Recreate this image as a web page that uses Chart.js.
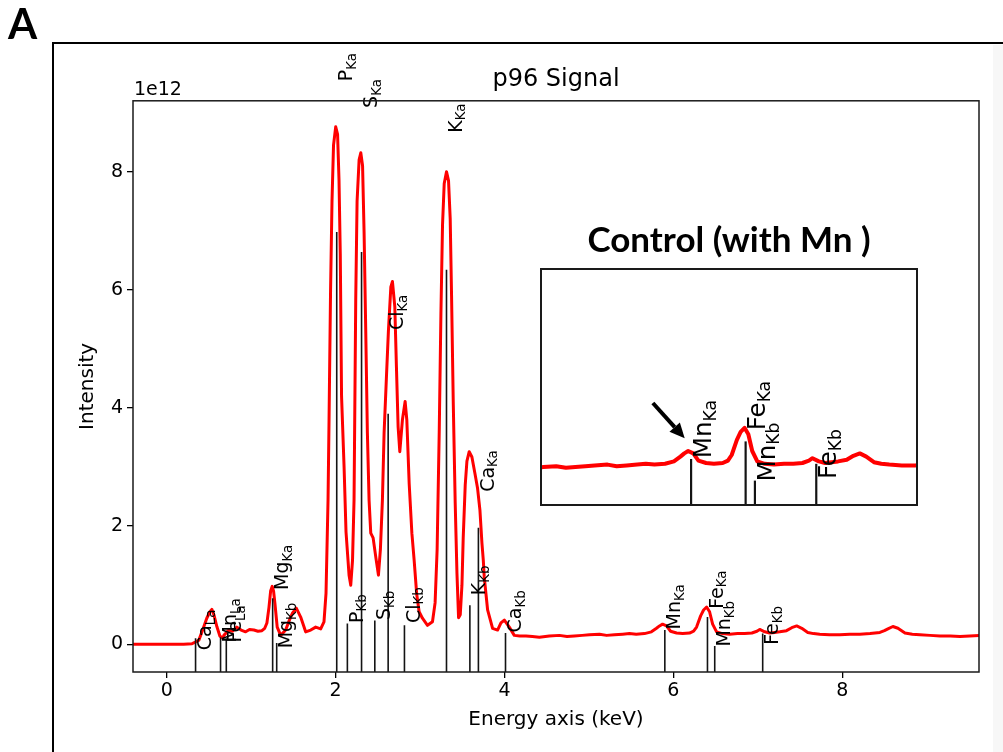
<!DOCTYPE html>
<html>
<head>
<meta charset="utf-8">
<title>p96 Signal</title>
<script src="https://cdn.jsdelivr.net/npm/chart.js@4.4.1/dist/chart.umd.min.js"></script>
<style>
  html, body { margin: 0; padding: 0; background: #fff; }
  #page { position: relative; width: 1003px; height: 752px; overflow: hidden; background: #fff; }
  #edge { position: absolute; left: 993px; top: 45px; width: 10px; height: 707px; background: #f7f7f7; }
  #main { position: absolute; left: 0; top: 0; }
  .rule { position: absolute; background: #000; }
  #panelLetter { position: absolute; left: 8px; top: -2px; font: bold 42px Lato, "Liberation Sans", sans-serif; color: #000; line-height: 50px; }
  #insetTitle { position: absolute; left: 540px; top: 218px; width: 378px; text-align: center; font: bold 35px Lato, sans-serif; color: #000; line-height: 40px; white-space: pre; }
  #inset { position: absolute; left: 540px; top: 268px; background: #fff; }
</style>
</head>
<body>
<div id="page">
  <div id="edge"></div>
  <canvas id="main" width="1003" height="752"></canvas>
  <div class="rule" style="left:52px;top:42px;width:951px;height:2px"></div>
  <div class="rule" style="left:52px;top:42px;width:2px;height:710px"></div>
  <div id="panelLetter">A</div>
  <div id="insetTitle">Control (with Mn )</div>
  <canvas id="inset" width="378" height="238"></canvas>
</div>
<script>
// EDS spectrum: energy (keV) and intensity (x 1e12)
const energyKeV = [
  -0.40, -0.20, 0.00, 0.20, 0.30, 0.332, 0.380, 0.427, 0.474, 0.510, 0.534, 0.558, 0.593, 0.629, 0.664,
  0.676, 0.735, 0.780, 0.830, 0.880, 0.934, 0.980, 1.032, 1.080, 1.127, 1.160, 1.186, 1.210, 1.230, 1.249,
  1.265, 1.281, 1.308, 1.349, 1.408, 1.450, 1.486, 1.534, 1.586, 1.645, 1.705, 1.764, 1.823, 1.862, 1.886,
  1.910, 1.922, 1.940, 1.957, 1.975, 2.001, 2.023, 2.040, 2.055, 2.070, 2.100, 2.123, 2.159, 2.179, 2.200,
  2.218, 2.238, 2.254, 2.278, 2.298, 2.319, 2.337, 2.357, 2.376, 2.396, 2.416, 2.444, 2.476, 2.507, 2.530,
  2.554, 2.574, 2.601, 2.625, 2.654, 2.673, 2.701, 2.720, 2.740, 2.760, 2.791, 2.823, 2.843, 2.871, 2.903,
  2.930, 2.960, 2.989, 3.028, 3.088, 3.147, 3.178, 3.202, 3.227, 3.247, 3.266, 3.286, 3.313, 3.337, 3.357,
  3.373, 3.393, 3.416, 3.437, 3.456, 3.476, 3.496, 3.511, 3.535, 3.555, 3.582, 3.614, 3.650, 3.681, 3.709,
  3.733, 3.749, 3.760, 3.800, 3.859, 3.918, 3.958, 3.998, 4.057, 4.116, 4.180, 4.255, 4.330, 4.413, 4.531,
  4.650, 4.740, 4.828, 4.920, 5.006, 5.125, 5.210, 5.302, 5.400, 5.480, 5.560, 5.658, 5.740, 5.800, 5.836,
  5.872, 5.919, 5.967, 6.038, 6.110, 6.192, 6.240, 6.275, 6.323, 6.358, 6.394, 6.429, 6.465, 6.512, 6.580,
  6.667, 6.760, 6.845, 6.930, 6.990, 7.023, 7.082, 7.140, 7.200, 7.260, 7.340, 7.402, 7.461, 7.521, 7.592,
  7.660, 7.734, 7.850, 7.972, 8.090, 8.209, 8.330, 8.446, 8.500, 8.541, 8.600, 8.660, 8.743, 8.830, 8.921,
  9.040, 9.158, 9.280, 9.395, 9.510, 9.620
];
const intensity = [
  0.00, 0.00, 0.00, 0.00, 0.01, 0.03, 0.07, 0.25, 0.44, 0.55, 0.59, 0.50, 0.30, 0.14, 0.10,
  0.15, 0.24, 0.22, 0.29, 0.24, 0.21, 0.25, 0.24, 0.22, 0.23, 0.27, 0.36, 0.62, 0.90, 0.98,
  0.90, 0.69, 0.29, 0.15, 0.24, 0.40, 0.52, 0.61, 0.46, 0.21, 0.24, 0.29, 0.26, 0.38, 0.86,
  2.44, 3.80, 6.00, 7.50, 8.45, 8.76, 8.63, 7.86, 6.60, 4.20, 3.00, 1.90, 1.17, 1.00, 1.42,
  2.44, 5.83, 7.50, 8.20, 8.32, 8.10, 6.97, 5.27, 3.58, 2.44, 1.88, 1.80, 1.47, 1.17, 1.60,
  2.44, 3.58, 4.50, 5.30, 6.05, 6.14, 5.71, 4.70, 3.68, 3.26, 3.80, 4.11, 3.80, 2.72, 1.88,
  1.42, 0.85, 0.55, 0.44, 0.32, 0.38, 0.70, 1.60, 3.60, 5.60, 7.10, 7.80, 8.00, 7.85, 7.20,
  5.90, 4.10, 2.40, 1.20, 0.45, 0.50, 1.00, 1.80, 2.70, 3.10, 3.26, 3.17, 2.89, 2.64, 2.27,
  1.71, 1.42, 1.14, 0.58, 0.27, 0.24, 0.36, 0.41, 0.29, 0.15, 0.14, 0.14, 0.13, 0.12, 0.14,
  0.15, 0.13, 0.14, 0.15, 0.16, 0.17, 0.15, 0.16, 0.17, 0.18, 0.17, 0.18, 0.21, 0.27, 0.31,
  0.34, 0.31, 0.22, 0.19, 0.18, 0.19, 0.22, 0.29, 0.48, 0.58, 0.63, 0.55, 0.34, 0.21, 0.18,
  0.17, 0.18, 0.18, 0.19, 0.22, 0.25, 0.21, 0.19, 0.20, 0.21, 0.23, 0.28, 0.31, 0.27, 0.20,
  0.18, 0.17, 0.16, 0.16, 0.17, 0.17, 0.18, 0.20, 0.23, 0.26, 0.30, 0.27, 0.19, 0.17, 0.16,
  0.15, 0.14, 0.14, 0.13, 0.14, 0.15
];

// X-ray line markers
const lineElements = ['Ca', 'Mn', 'Fe', 'Mg', 'Mg', 'P', 'P', 'S', 'S', 'Cl', 'Cl', 'K', 'K', 'Ca', 'Ca', 'Mn', 'Fe', 'Mn', 'Fe'];
const lineNames    = ['La', 'La', 'La', 'Ka', 'Kb', 'Ka', 'Kb', 'Ka', 'Kb', 'Ka', 'Kb', 'Ka', 'Kb', 'Ka', 'Kb', 'Ka', 'Ka', 'Kb', 'Kb'];
const lineEnergies = [0.341, 0.637, 0.705, 1.254, 1.302, 2.013, 2.139, 2.307, 2.464, 2.622, 2.815, 3.313, 3.590, 3.691, 4.012, 5.899, 6.404, 6.490, 7.058];
const lineTops     = [0.10, 0.12, 0.10, 0.78, 0.02, 6.98, 0.35, 6.64, 0.40, 3.90, 0.32, 6.34, 0.66, 1.97, 0.19, 0.24, 0.46, -0.03, 0.18];
const labelHeights = [-0.10, 0.03, 0.03, 0.92, -0.07, 9.53, 0.36, 9.08, 0.41, 5.32, 0.36, 8.66, 0.83, 2.58, 0.20, 0.25, 0.60, -0.04, -0.01];

const xTicks = [0, 2, 4, 6, 8];
const yTicks = [0, 2, 4, 6, 8];

// Axis ranges
const mainX = {min: -0.40, max: 9.62};
const mainY = {min: -0.47, max: 9.20};
const zoomX = {min: 4.50, max: 8.00};
const zoomY = {min: -0.3475, max: 2.6275};

Chart.defaults.font.family = '"DejaVu Sans", sans-serif';
Chart.defaults.color = '#000';

const spectrumPoints = energyKeV.map((e, i) => ({x: e, y: intensity[i]}));

function spectrumSet(width) {
  return {
    data: spectrumPoints, showLine: true, borderColor: '#ff0000', backgroundColor: '#ff0000',
    borderWidth: width, pointRadius: 0, tension: 0, order: 1, borderJoinStyle: 'round'
  };
}

function markerSets(yBottom, width, range) {
  const sets = [];
  lineEnergies.forEach((e, i) => {
    if (e < range.min || e > range.max) return;
    sets.push({
      data: [{x: e, y: yBottom}, {x: e, y: lineTops[i]}],
      showLine: true, borderColor: '#141414', borderWidth: width,
      pointRadius: 0, order: 0
    });
  });
  return sets;
}

// Rotated element labels, e.g. P with subscript Ka
function lineLabels(size, range) {
  return {
    id: 'lineLabels',
    afterDatasetsDraw(chart) {
      const {ctx} = chart;
      const xs = chart.scales.x, ys = chart.scales.y;
      ctx.save();
      ctx.fillStyle = '#000';
      lineEnergies.forEach((e, i) => {
        if (e < range.min || e > range.max) return;
        const px = xs.getPixelForValue(e);
        const py = ys.getPixelForValue(labelHeights[i]);
        ctx.save();
        ctx.translate(px, py);
        ctx.rotate(-Math.PI / 2);
        ctx.textAlign = 'left';
        ctx.textBaseline = 'alphabetic';
        ctx.font = size + 'px "DejaVu Sans"';
        const base = size * 0.80;
        ctx.fillText(lineElements[i], 0, base);
        const w = ctx.measureText(lineElements[i]).width;
        ctx.font = (size * 0.7) + 'px "DejaVu Sans"';
        ctx.fillText(lineNames[i], w, base + size * 0.2);
        ctx.restore();
      });
      ctx.restore();
    }
  };
}

function frame(width, inside) {
  return {
    id: 'frame',
    afterDraw(chart) {
      const {ctx, chartArea: a} = chart;
      const d = inside ? width / 2 : 0;
      ctx.save();
      ctx.strokeStyle = '#1a1a1a';
      ctx.lineWidth = width;
      ctx.strokeRect(a.left + d, a.top + d, a.right - a.left - 2 * d, a.bottom - a.top - 2 * d);
      ctx.restore();
    }
  };
}

const offsetText = {
  id: 'offsetText',
  afterDraw(chart) {
    const {ctx, chartArea: a} = chart;
    ctx.save();
    ctx.fillStyle = '#000';
    ctx.font = '19px "DejaVu Sans"';
    ctx.textAlign = 'left';
    ctx.textBaseline = 'alphabetic';
    ctx.fillText('1e12', a.left + 1, a.top - 6);
    ctx.restore();
  }
};

const tickGrid = {drawOnChartArea: false, drawTicks: true, tickLength: 6, color: '#000', lineWidth: 1.3};

new Chart(document.getElementById('main'), {
  type: 'scatter',
  data: {datasets: [...markerSets(mainY.min, 1.6, mainX), spectrumSet(3)]},
  options: {
    responsive: false, animation: false, events: [],
    layout: {padding: {left: 0, right: 24, top: 0, bottom: 0}},
    plugins: {
      legend: {display: false}, tooltip: {enabled: false},
      title: {
        display: true, text: 'p96 Signal', fullSize: false, color: '#000',
        font: {family: '"DejaVu Sans"', size: 24, weight: 'normal'},
        padding: {top: 65, bottom: 7}
      }
    },
    scales: {
      x: {
        type: 'linear', min: mainX.min, max: mainX.max,
        afterBuildTicks: s => { s.ticks = xTicks.map(v => ({value: v})); },
        afterFit: s => { s.height = 80; },
        grid: tickGrid, border: {display: false},
        ticks: {font: {size: 19}, padding: 2, maxRotation: 0, color: '#000'},
        title: {display: true, text: 'Energy axis (keV)', color: '#000', font: {size: 20}, padding: {top: 0, bottom: 20}}
      },
      y: {
        type: 'linear', min: mainY.min, max: mainY.max,
        afterBuildTicks: s => { s.ticks = yTicks.map(v => ({value: v})); },
        afterFit: s => { s.width = 133; },
        grid: tickGrid, border: {display: false},
        ticks: {font: {size: 19}, padding: 4, color: '#000'},
        title: {display: true, text: 'Intensity', color: '#000', font: {size: 20}, padding: {top: 76, bottom: 0}}
      }
    }
  },
  plugins: [lineLabels(19, mainX), frame(1.5, false), offsetText]
});

// Enlarged view of the Mn / Fe region
const arrowTail = {x: 5.545, y: 0.94};
const arrowHead = {x: 5.840, y: 0.50};
const arrow = {
  id: 'arrow',
  afterDraw(chart) {
    const {ctx} = chart;
    const xs = chart.scales.x, ys = chart.scales.y;
    const x0 = xs.getPixelForValue(arrowTail.x), y0 = ys.getPixelForValue(arrowTail.y);
    const x1 = xs.getPixelForValue(arrowHead.x), y1 = ys.getPixelForValue(arrowHead.y);
    const ang = Math.atan2(y1 - y0, x1 - x0);
    const len = 15, half = 7;
    const bx = x1 - len * Math.cos(ang), by = y1 - len * Math.sin(ang);
    ctx.save();
    ctx.strokeStyle = '#000';
    ctx.fillStyle = '#000';
    ctx.lineWidth = 4;
    ctx.beginPath();
    ctx.moveTo(x0, y0);
    ctx.lineTo(bx, by);
    ctx.stroke();
    ctx.beginPath();
    ctx.moveTo(x1, y1);
    ctx.lineTo(bx + half * Math.sin(ang), by - half * Math.cos(ang));
    ctx.lineTo(bx - half * Math.sin(ang), by + half * Math.cos(ang));
    ctx.closePath();
    ctx.fill();
    ctx.restore();
  }
};

new Chart(document.getElementById('inset'), {
  type: 'scatter',
  data: {datasets: [...markerSets(zoomY.min, 2.2, zoomX), spectrumSet(4)]},
  options: {
    responsive: false, animation: false, events: [],
    layout: {padding: 0},
    plugins: {legend: {display: false}, tooltip: {enabled: false}, title: {display: false}},
    scales: {
      x: {type: 'linear', display: false, min: zoomX.min, max: zoomX.max},
      y: {type: 'linear', display: false, min: zoomY.min, max: zoomY.max}
    }
  },
  plugins: [lineLabels(24.5, zoomX), frame(2, true), arrow]
});
</script>
</body>
</html>
